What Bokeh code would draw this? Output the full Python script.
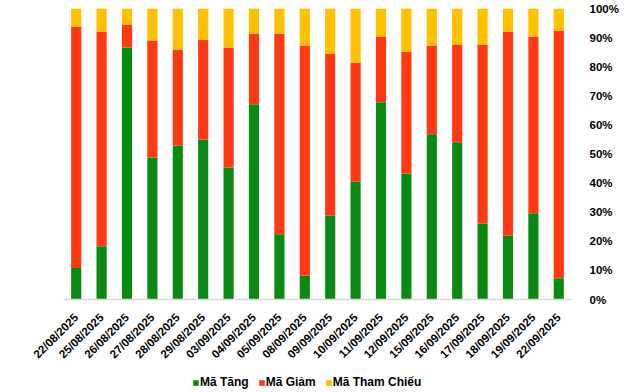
import math
from bokeh.plotting import figure
from bokeh.layouts import column
from bokeh.models import (FactorRange, Range1d, Legend, LegendItem, ColumnDataSource,
                          FixedTicker, PrintfTickFormatter)
from bokeh.embed import file_html
from bokeh.resources import INLINE

dates = ["22/08/2025", "25/08/2025", "26/08/2025", "27/08/2025", "28/08/2025",
         "29/08/2025", "03/09/2025", "04/09/2025", "05/09/2025", "08/09/2025",
         "09/09/2025", "10/09/2025", "11/09/2025", "12/09/2025", "15/09/2025",
         "16/09/2025", "17/09/2025", "18/09/2025", "19/09/2025", "22/09/2025"]
ma_tang = [10.8, 18.3, 86.6, 48.8, 52.9, 55.0, 45.4, 67.1, 22.4, 8.2,
           28.9, 40.5, 67.8, 43.3, 56.8, 54.0, 26.1, 22.0, 29.6, 7.3]
ma_giam = [83.0, 73.8, 7.9, 40.2, 33.0, 34.3, 41.2, 24.3, 69.0, 79.1,
           55.6, 40.9, 22.6, 41.9, 30.5, 33.6, 61.5, 70.1, 60.8, 85.1]
ma_tham_chieu = [6.2, 7.9, 5.5, 11.0, 14.1, 10.7, 13.4, 8.6, 8.6, 12.7,
                 15.5, 18.6, 9.6, 14.8, 12.7, 12.4, 12.4, 7.9, 9.6, 7.6]
series_names = ["Mã Tăng", "Mã Giảm", "Mã Tham Chiếu"]
colors = ["#0B8A13", "#FF3A13", "#FFC000"]
y_ticks = [0, 10, 20, 30, 40, 50, 60, 70, 80, 90, 100]

source = ColumnDataSource(dict(date=dates, tang=ma_tang, giam=ma_giam, tc=ma_tham_chieu))
fields = ["tang", "giam", "tc"]

FONT = "Liberation Sans"

x_range = FactorRange(factors=dates, range_padding=0)

p = figure(width=624, height=370,
           x_range=x_range,
           y_range=Range1d(0, 100),
           y_axis_location="right",
           output_backend="svg", toolbar_location=None,
           min_border_left=63, min_border_right=53,
           min_border_top=8, min_border_bottom=71)
p.outline_line_color = None
p.xgrid.visible = False
p.ygrid.visible = False

p.vbar_stack(fields, x="date", width=0.4, color=colors, line_color=None, source=source)

xa = p.xaxis[0]
xa.major_label_orientation = math.pi / 4
xa.major_tick_line_color = None
xa.minor_tick_line_color = None
xa.axis_line_color = "#D9D9D9"
xa.axis_line_width = 1.5
xa.major_label_text_font = FONT
xa.major_label_text_font_style = "bold"
xa.major_label_text_font_size = "11.5px"
xa.major_label_text_color = "#000000"
xa.major_label_standoff = 10

ya = p.yaxis[0]
ya.ticker = FixedTicker(ticks=y_ticks)
ya.formatter = PrintfTickFormatter(format="%d%%")
ya.axis_line_color = None
ya.major_tick_line_color = None
ya.minor_tick_line_color = None
ya.major_label_text_font = FONT
ya.major_label_text_font_style = "bold"
ya.major_label_text_font_size = "11.5px"
ya.major_label_text_color = "#000000"
ya.major_label_standoff = 12

# legend strip below the chart: same stacked series, drawn outside its visible y range,
# so only their legend glyphs show
lf = figure(width=624, height=22, x_range=x_range, y_range=Range1d(500, 600),
            output_backend="svg", toolbar_location=None,
            min_border_left=0, min_border_right=0, min_border_top=0, min_border_bottom=0)
lf.axis.visible = False
lf.grid.visible = False
lf.outline_line_color = None
leg_renderers = lf.vbar_stack(fields, x="date", width=0.4, color=colors,
                              line_color=None, source=source)

items = [LegendItem(label=n, renderers=[r]) for n, r in zip(series_names, leg_renderers)]
legend = Legend(items=items, orientation="horizontal", location=(129, 3),
                glyph_width=7, glyph_height=7, label_height=12, label_standoff=1, spacing=9,
                padding=0, margin=0, border_line_color=None,
                background_fill_alpha=0,
                label_text_font=FONT, label_text_font_style="bold",
                label_text_font_size="12px", label_text_color="#000000")
lf.add_layout(legend, "center")

layout = column(p, lf, spacing=0)
open("out.html", "w").write(file_html(layout, INLINE))
